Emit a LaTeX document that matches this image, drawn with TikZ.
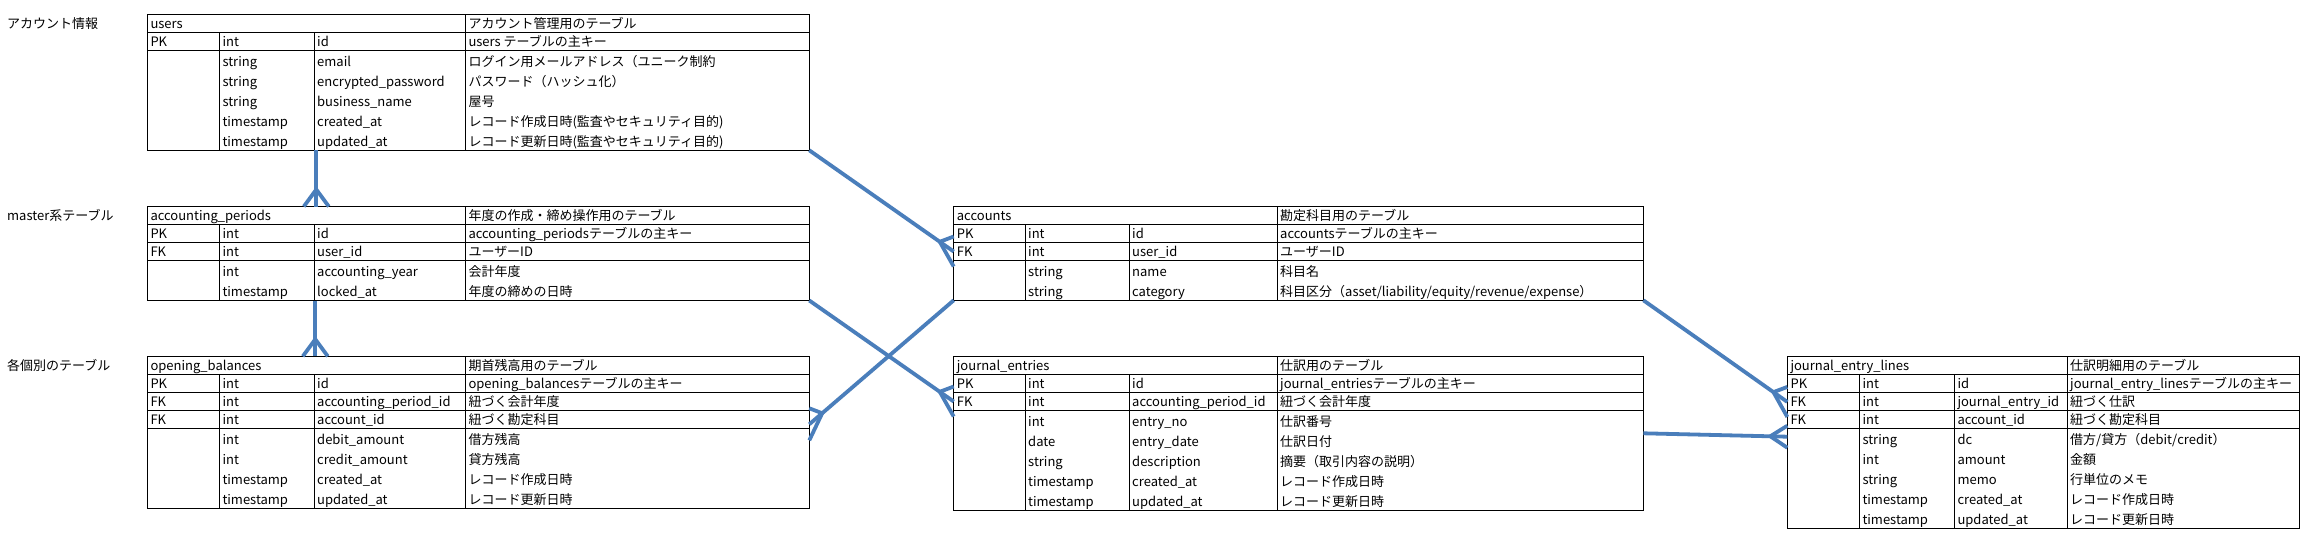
\documentclass[tikz,border=0pt]{standalone}
\usepackage{fontspec}
\setmainfont{Noto Sans CJK JP}
\usepackage{tikz}
\usetikzlibrary{positioning,calc}
\definecolor{linkblue}{RGB}{74,126,187}
% crow's foot on the many side: from, to, half spread along the table edge
\newcommand{\crow}[3]{\draw[relation,line join=round] ($(#2)+(#3)$) -- ($(#2)!17pt!(#1)$) -- ($(#2)-(#3)$);}
% inner rules of a table: width, height, col A, col B, col C, horizontal rules
\newcommand{\tabgrid}[6]{%
 \draw[gridline] (#5,0) -- (#5,#2) (#3,18) -- (#3,#2) (#4,18) -- (#4,#2);
 \foreach \ly in {#6} {\draw[gridline] (0,\ly) -- (#1,\ly);}}
% text of the rows: table, col A, col B, col C, baseline/key/type/field/note
\newcommand{\fillrows}[5]{%
 \foreach \ry/\ky/\ty/\fd/\nt [count=\i] in {#5} {
  \node[cell] (#1-k\i) at (0,\ry) {\ky};
  \node[cell] (#1-t\i) at (#2,\ry) {\ty};
  \node[cell] (#1-f\i) at (#3,\ry) {\fd};
  \node[cell] (#1-d\i) at (#4,\ry) {\nt};}}

\begin{document}
\begin{tikzpicture}[x=1pt,y=-1pt,
 tbl/.style={draw,line width=1pt,anchor=north west,inner sep=0pt,outer sep=0pt},
 gridline/.style={line width=1pt},
 cell/.style={anchor=base west,inner xsep=3pt,font=\fontsize{13pt}{16pt}\selectfont},
 grouplabel/.style={cell,inner xsep=0pt},
 relation/.style={draw=linkblue,line width=3.8pt}]
\path[use as bounding box,fill=white] (0,0) rectangle (2316,546);

\node[grouplabel] (grp-account) at (7,28.3) {アカウント情報};
\node[grouplabel] (grp-master) at (7,220.5) {master系テーブル};
\node[grouplabel] (grp-each) at (7,370.3) {各個別のテーブル};

% users
\node[tbl,minimum width=662,minimum height=136] (users) at (147.3,14.3) {};
\begin{scope}[shift={(users.north west)}]
\tabgrid{662}{136}{72}{166.7}{318}{18,36}
\node[cell] (users-name) at (0,14) {users};
\node[cell] (users-note) at (318,14) {アカウント管理用のテーブル};
\fillrows{users}{72}{166.7}{318}{32/PK/int/id/users テーブルの主キー,
 52//string/email/ログイン用メールアドレス（ユニーク制約,
 72//string/encrypted\_password/パスワード（ハッシュ化）,
 92//string/business\_name/屋号,
 112//timestamp/created\_at/レコード作成日時(監査やセキュリティ目的),
 132//timestamp/updated\_at/レコード更新日時(監査やセキュリティ目的)}
\end{scope}

% accounting_periods
\node[tbl,minimum width=662,minimum height=94] (periods) at (147.3,206.5) {};
\begin{scope}[shift={(periods.north west)}]
\tabgrid{662}{94}{72}{166.7}{318}{18,36,54}
\node[cell] (periods-name) at (0,14) {accounting\_periods};
\node[cell] (periods-note) at (318,14) {年度の作成・締め操作用のテーブル};
\fillrows{periods}{72}{166.7}{318}{32/PK/int/id/accounting\_periodsテーブルの主キー,
 50/FK/int/user\_id/ユーザーID,
 70//int/accounting\_year/会計年度,
 90//timestamp/locked\_at/年度の締めの日時}
\end{scope}

% opening_balances
\node[tbl,minimum width=662,minimum height=152] (opening) at (147.3,356.3) {};
\begin{scope}[shift={(opening.north west)}]
\tabgrid{662}{152}{72}{166.7}{318}{18,36,54,72}
\node[cell] (opening-name) at (0,14) {opening\_balances};
\node[cell] (opening-note) at (318,14) {期首残高用のテーブル};
\fillrows{opening}{72}{166.7}{318}{32/PK/int/id/opening\_balancesテーブルの主キー,
 50/FK/int/accounting\_period\_id/紐づく会計年度,
 68/FK/int/account\_id/紐づく勘定科目,
 88//int/debit\_amount/借方残高,
 108//int/credit\_amount/貸方残高,
 128//timestamp/created\_at/レコード作成日時,
 148//timestamp/updated\_at/レコード更新日時}
\end{scope}

% accounts
\node[tbl,minimum width=689.7,minimum height=94] (accounts) at (953.7,206.3) {};
\begin{scope}[shift={(accounts.north west)}]
\tabgrid{689.7}{94}{71.3}{175.3}{323.3}{18,36,54}
\node[cell] (accounts-name) at (0,14) {accounts};
\node[cell] (accounts-note) at (323.3,14) {勘定科目用のテーブル};
\fillrows{accounts}{71.3}{175.3}{323.3}{32/PK/int/id/accountsテーブルの主キー,
 50/FK/int/user\_id/ユーザーID,
 70//string/name/科目名,
 90//string/category/科目区分（asset\slash liability\slash equity\slash revenue\slash expense）}
\end{scope}

% journal_entries
\node[tbl,minimum width=689.7,minimum height=154] (jent) at (953.7,356.3) {};
\begin{scope}[shift={(jent.north west)}]
\tabgrid{689.7}{154}{71.3}{175.3}{323.3}{18,36,54}
\node[cell] (jent-name) at (0,14) {journal\_entries};
\node[cell] (jent-note) at (323.3,14) {仕訳用のテーブル};
\fillrows{jent}{71.3}{175.3}{323.3}{32/PK/int/id/journal\_entriesテーブルの主キー,
 50/FK/int/accounting\_period\_id/紐づく会計年度,
 70//int/entry\_no/仕訳番号,
 90//date/entry\_date/仕訳日付,
 110//string/description/摘要（取引内容の説明）,
 130//timestamp/created\_at/レコード作成日時,
 150//timestamp/updated\_at/レコード更新日時}
\end{scope}

% journal_entry_lines
\node[tbl,minimum width=511.7,minimum height=172] (jel) at (1787.3,356.7) {};
\begin{scope}[shift={(jel.north west)}]
\tabgrid{511.7}{172}{72}{167}{279.7}{18,36,54,72}
\node[cell] (jel-name) at (0,14) {journal\_entry\_lines};
\node[cell] (jel-note) at (279.7,14) {仕訳明細用のテーブル};
\fillrows{jel}{72}{167}{279.7}{32/PK/int/id/journal\_entry\_linesテーブルの主キー,
 50/FK/int/journal\_entry\_id/紐づく仕訳,
 68/FK/int/account\_id/紐づく勘定科目,
 88//string/dc/借方\slash 貸方（debit\slash credit）,
 108//int/amount/金額,
 128//string/memo/行単位のメモ,
 148//timestamp/created\_at/レコード作成日時,
 168//timestamp/updated\_at/レコード更新日時}
\end{scope}

% relations
\coordinate (u-out) at ($(users.south west)+(169,0)$);
\coordinate (p-in) at ($(periods.north west)+(169,0)$);
\coordinate (p-out) at ($(periods.south west)+(168,0)$);
\coordinate (o-in) at ($(opening.north west)+(168,0)$);
\coordinate (o-acc) at ($(opening.north east)+(0,68)$);
\coordinate (jel-acc) at ($(jel.north west)+(0,80)$);
\draw[relation] (u-out) -- (p-in); \crow{u-out}{p-in}{12.5,0}
\draw[relation] (p-out) -- (o-in); \crow{p-out}{o-in}{12.5,0}
\draw[relation] (users.south east) -- (accounts-k2.west); \crow{users.south east}{accounts-k2.west}{0,15}
\draw[relation] (periods.south east) -- (jent-k2.west); \crow{periods.south east}{jent-k2.west}{0,15}
\draw[relation] (accounts.south west) -- (o-acc); \crow{accounts.south west}{o-acc}{0,16}
\draw[relation] (accounts.south east) -- (jel-k2.west); \crow{accounts.south east}{jel-k2.west}{0,15}
\draw[relation] (jent.east) -- (jel-acc); \crow{jent.east}{jel-acc}{0,11}
\end{tikzpicture}
\end{document}
